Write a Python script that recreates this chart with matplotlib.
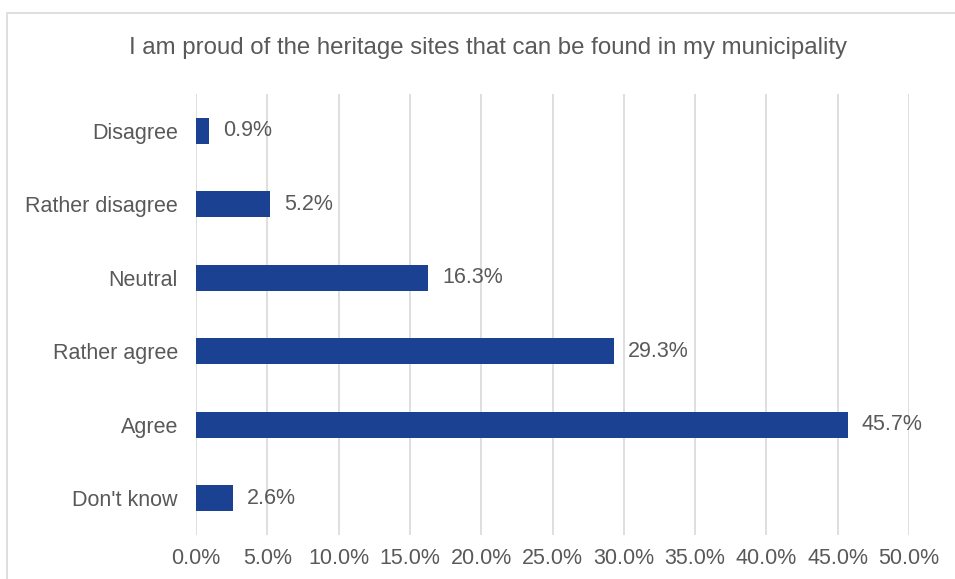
import matplotlib.pyplot as plt
from matplotlib.patches import Rectangle

# --- Data ---
categories = ["Disagree", "Rather disagree", "Neutral", "Rather agree", "Agree", "Don't know"]
shares = [0.9, 5.2, 16.3, 29.3, 45.7, 2.6]
tick_values = [0, 5, 10, 15, 20, 25, 30, 35, 40, 45, 50]
title = "I am proud of the heritage sites that can be found in my municipality"

plt.rcParams['font.family'] = ['Liberation Sans', 'DejaVu Sans']
text_color = '#595959'
bar_color = '#1A4192'
grid_color = '#D9D9D9'
fs = 15.5

fig = plt.figure(figsize=(9.55, 5.79), dpi=100)
ax = fig.add_axes([196 / 955, 1 - 535 / 579, (909 - 196) / 955, (535 - 94) / 579])

# outer chart border (cut off on right and bottom like the original)
fig.patches.append(Rectangle((7 / 955, -0.05), 1.2, 1 - 13 / 579 + 0.05,
                             transform=fig.transFigure, fill=False,
                             edgecolor='#D9D9D9', linewidth=1.2))

y = list(range(len(categories)))
ax.barh(y, shares, height=0.35, color=bar_color, zorder=3)
for yi, v in zip(y, shares):
    ax.text(v + 1.0, yi, f"{v:.1f}%", va='center', ha='left', fontsize=fs, color=text_color)

ax.set_ylim(len(categories) - 0.5, -0.5)
ax.set_yticks(y)
ax.set_yticklabels(categories, fontsize=fs, color=text_color)
ax.set_xlim(0, 50)
ax.set_xticks(tick_values)
ax.set_xticklabels([f"{t:.1f}%" for t in tick_values], fontsize=fs, color=text_color)
ax.tick_params(axis='both', length=0)
ax.tick_params(axis='y', pad=13)
ax.tick_params(axis='x', pad=9)

ax.grid(axis='x', color=grid_color, linewidth=1.2, zorder=0)
for s in ax.spines.values():
    s.set_visible(False)

fig.text(488 / 955, 1 - 48 / 579, title, ha='center', va='center', fontsize=17.3, color=text_color)

plt.savefig('out.png', dpi=100)
